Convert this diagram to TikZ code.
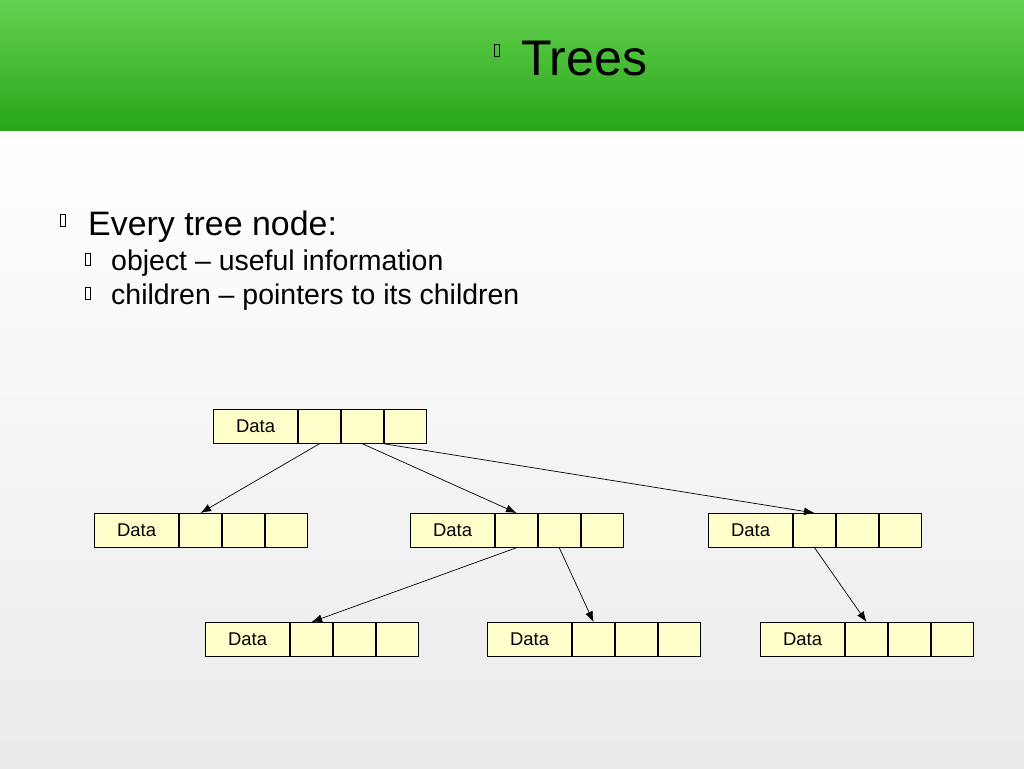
\documentclass[tikz,border=0pt]{standalone}
\usepackage{fontspec}
\setmainfont{Liberation Sans}
\usetikzlibrary{positioning, arrows.meta}
\definecolor{bargreen}{RGB}{40,165,25}
\definecolor{barlight}{RGB}{100,210,80}
\definecolor{cellyellow}{RGB}{255,255,204}
\tikzset{
  field/.style={draw, fill=cellyellow, inner sep=0pt, minimum height=0.68cm, font=\fontsize{10.5}{12}\selectfont},
  datafield/.style={field, minimum width=1.69cm},
  ptrfield/.style={field, minimum width=0.84cm},
  pointer/.style={-{Latex[length=6pt, width=4.5pt]}, thin},
  bulletbox/.style={draw, thin, minimum width=3pt, minimum height=7pt, inner sep=0pt}
}
% one tree node: data field and three pointer cells
\newcommand{\treenode}[3]{%
  \node[datafield, anchor=north west] (#1) at (#2,#3) {Data};
  \node[ptrfield, right=0pt of #1] (#1a) {};
  \node[ptrfield, right=0pt of #1a] (#1b) {};
  \node[ptrfield, right=0pt of #1b] (#1c) {};
}
\begin{document}
\begin{tikzpicture}[x=0.02cm, y=-0.02cm]
\useasboundingbox (0,0) rectangle (1024,768);
% background
\shade[top color=white, bottom color=black!8] (0,130) rectangle (1024,768);
\shade[top color=barlight, bottom color=bargreen] (0,0) rectangle (1024,130);

% title and bullets
\node[bulletbox] (tb) at (497,50) {};
\node[anchor=base west, font=\fontsize{28.5}{34}\selectfont] (title) at (515,75) {Trees};
\node[bulletbox] (b0) at (63,220) {};
\node[anchor=base west, font=\fontsize{19.3}{22}\selectfont] (l0) at (82,235) {Every tree node:};
\node[bulletbox] (b1) at (88,259) {};
\node[anchor=base west, font=\fontsize{16.2}{19}\selectfont] (l1) at (105,270) {object -- useful information};
\node[bulletbox] (b2) at (88,293) {};
\node[anchor=base west, font=\fontsize{16.2}{19}\selectfont] (l2) at (105,304) {children -- pointers to its children};

% tree
\treenode{root}{213}{409}
\treenode{left}{94}{513}
\treenode{mid}{410}{513}
\treenode{right}{708}{513}
\treenode{ll}{205}{622}
\treenode{lm}{487}{622}
\treenode{lr}{760}{622}

\draw[pointer] (roota.south) -- (lefta.north);
\draw[pointer] (rootb.south) -- (mida.north);
\draw[pointer] (rootc.south west) -- (righta.north);
\draw[pointer] (mida.south) -- (lla.north);
\draw[pointer] (midb.south) -- (lma.north);
\draw[pointer] (righta.south) -- (lra.north);
\end{tikzpicture}
\end{document}
